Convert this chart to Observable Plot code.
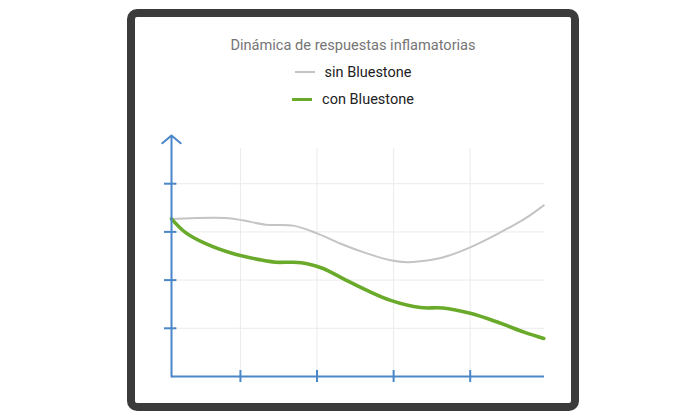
<!DOCTYPE html>
<html><head><meta charset="utf-8">
<script src="https://cdn.jsdelivr.net/npm/d3@7"></script>
<script src="https://cdn.jsdelivr.net/npm/@observablehq/plot@0.6"></script>
<style>
html,body{margin:0;padding:0;background:#fff;width:700px;height:417px;overflow:hidden;font-family:Roboto,"Noto Sans",sans-serif;}
#card{position:absolute;left:127px;top:9px;width:436px;height:386px;border:8px solid #3b3b3b;border-radius:10px;background:#fff;}
#title{position:absolute;left:0;width:436px;top:19px;text-align:center;font-size:14.6px;color:#757575;}
.leg{position:absolute;left:0;width:436px;text-align:center;font-size:14.5px;color:#222;}
.sw{display:inline-block;width:20px;height:0;vertical-align:middle;margin-right:10px;position:relative;top:-1px;}
#chart{position:absolute;left:0;top:103px;}
</style></head><body>
<div id="card">
<div id="title">Dinámica de respuestas inflamatorias</div>
<div class="leg" style="top:47px"><span class="sw" style="border-top:2px solid #c4c4c4"></span>sin Bluestone</div>
<div class="leg" style="top:74px"><span class="sw" style="border-top:3px solid #6aaa2a"></span>con Bluestone</div>
<div id="chart"></div>
</div>
<script>
const seriesNames = ["sin Bluestone", "con Bluestone"];
const xSin = [0.1, 0.8, 1.03, 1.33, 1.69, 2.0, 2.3, 2.66, 2.96, 3.18, 3.35, 3.64, 4.0, 4.37, 4.72, 4.96];
const ySin = [3.27, 3.29, 3.24, 3.15, 3.13, 2.97, 2.76, 2.55, 2.41, 2.37, 2.39, 2.47, 2.68, 2.97, 3.28, 3.55];
const xCon = [0.1, 0.28, 0.54, 0.9, 1.23, 1.46, 1.69, 1.87, 2.08, 2.34, 2.66, 2.96, 3.35, 3.64, 4.0, 4.37, 4.72, 4.96];
const yCon = [3.27, 2.99, 2.76, 2.55, 2.43, 2.37, 2.37, 2.34, 2.24, 2.03, 1.78, 1.58, 1.43, 1.42, 1.31, 1.12, 0.91, 0.79];
const xTicks = [1, 2, 3, 4];
const yTicks = [1, 2, 3, 4];
const colors = ["#c4c4c4", "#6aaa2a"];
const axisColor = "#4a86c8";

const sin = xSin.map((x, i) => ({x, y: ySin[i]}));
const con = xCon.map((x, i) => ({x, y: yCon[i]}));
const xMin = 0.1, xMax = 4.97, yMax = 5;

const plot = Plot.plot({
  width: 436, height: 280,
  marginLeft: 36, marginRight: 27, marginTop: 15, marginBottom: 24,
  x: {domain: [xMin, xMax], axis: null},
  y: {domain: [0, yMax], axis: null},
  marks: [
    Plot.ruleX(xTicks, {y1: 0, y2: 4.73, stroke: "#ebebeb", strokeWidth: 1}),
    Plot.ruleY(yTicks, {x1: xMin, x2: xMax, stroke: "#ebebeb", strokeWidth: 1}),
    Plot.line(sin, {x: "x", y: "y", stroke: colors[0], strokeWidth: 2, curve: "catmull-rom"}),
    Plot.line(con, {x: "x", y: "y", stroke: colors[1], strokeWidth: 3.6, curve: "catmull-rom"}),
    Plot.ruleY([0], {x1: xMin, x2: xMax, stroke: axisColor, strokeWidth: 2}),
    Plot.arrow([{x1: xMin, y1: 0, x2: xMin, y2: yMax}], {x1: "x1", y1: "y1", x2: "x2", y2: "y2", stroke: axisColor, strokeWidth: 2, headLength: 9, headAngle: 100}),
    Plot.ruleX(xTicks, {y1: -0.125, y2: 0.125, stroke: axisColor, strokeWidth: 2}),
    Plot.ruleY(yTicks, {x1: xMin - 0.092, x2: xMin + 0.07, stroke: axisColor, strokeWidth: 2})
  ]
});
document.getElementById("chart").appendChild(plot);
</script>
</body></html>
